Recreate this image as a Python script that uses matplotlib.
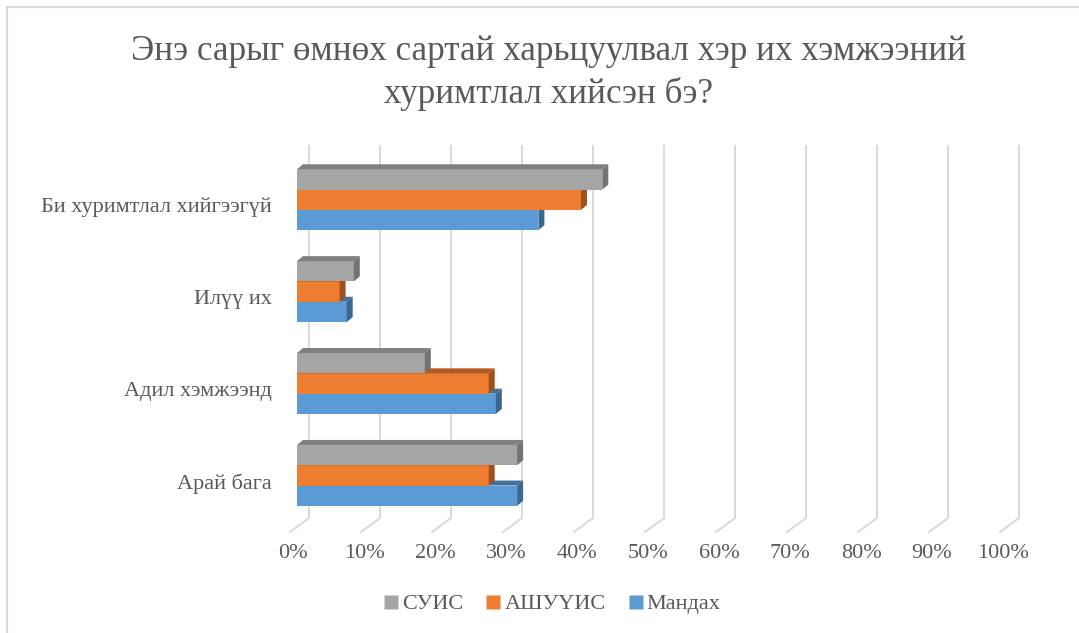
import numpy as np
import matplotlib.pyplot as plt
from matplotlib.patches import Polygon, Rectangle
from matplotlib.lines import Line2D

plt.rcParams['font.family'] = ['Liberation Serif', 'DejaVu Serif']

# data (bottom to top, as matplotlib draws categories)
categories = ["Арай бага", "Адил хэмжээнд", "Илүү их", "Би хуримтлал хийгээгүй"]
series_names = ["СУИС", "АШУҮИС", "Мандах"]
suis = [31, 18, 8, 43]
ashuuis = [27, 27, 6, 40]
mandakh = [31, 28, 7, 34]
x_ticks = [0, 10, 20, 30, 40, 50, 60, 70, 80, 90, 100]

front_colors = ["#A5A5A5", "#ED7D31", "#5B9BD5"]
top_colors = ["#7F7F7F", "#B35A20", "#41719C"]
side_colors = ["#737373", "#A0501C", "#3A6790"]
grid_color = "#D9D9D9"
text_color = "#595959"

W, H = 1079, 633
fig = plt.figure(figsize=(W / 100, H / 100), dpi=100)

# axes placement in pixels
px_x = 7.1      # pixels per percent
px_y = 91.9     # pixels per category
x0_px = 297
y0_px = 475.4
xlim = (-3, 103)
ylim = (-(532 - y0_px) / px_y, (y0_px - 145) / px_y)
left = (x0_px + xlim[0] * px_x) / W
width = (xlim[1] - xlim[0]) * px_x / W
bottom = (H - 532) / H
height = (ylim[1] - ylim[0]) * px_y / H
ax = fig.add_axes([left, bottom, width, height])
ax.set_xlim(*xlim)
ax.set_ylim(*ylim)
ax.axis("off")

# 3d depth offsets in data units
bar_dx, bar_dy = 6 / px_x, 5 / px_y
back_dx, floor_dy = 12 / px_x, 14 / px_y
front_dx = -7 / px_x

# back wall gridlines and floor lines
for t in x_ticks:
    ax.plot([t + back_dx, t + back_dx], [ylim[0] + floor_dy, ylim[1]],
            color=grid_color, lw=1.4, zorder=1, clip_on=False, solid_capstyle="butt")
    ax.plot([t + back_dx, t + front_dx], [ylim[0] + floor_dy, ylim[0]],
            color=grid_color, lw=1.4, zorder=1, clip_on=False)
    ax.text(t - 0.56, -(553 - y0_px) / px_y, f"{t}%", ha="center", va="center",
            fontsize=16, color=text_color, clip_on=False)

bh = 20.3 / px_y
values = [suis, ashuuis, mandakh]
offsets = [bh, 0, -bh]
z = 2
# draw bottom series first so upper bars cover their top faces
for s in [2, 1, 0]:
    for i, v in enumerate(values[s]):
        yc = i + offsets[s]
        b, t = yc - bh / 2, yc + bh / 2
        ax.add_patch(Rectangle((0, b), v, bh, facecolor=front_colors[s],
                               edgecolor="none", zorder=z))
        ax.add_patch(Polygon([(0, t), (v, t), (v + bar_dx, t + bar_dy), (bar_dx, t + bar_dy)],
                             closed=True, facecolor=top_colors[s], edgecolor="none", zorder=z))
        ax.add_patch(Polygon([(v, b), (v, t), (v + bar_dx, t + bar_dy), (v + bar_dx, b + bar_dy)],
                             closed=True, facecolor=side_colors[s], edgecolor="none", zorder=z))
    z += 1

# category labels
for i, c in enumerate(categories):
    ax.text(-(x0_px - 272) / px_x, i - 8 / px_y, c, ha="right", va="center",
            fontsize=16, color=text_color, clip_on=False)

# title
fig.text(549 / W, 1 - 73 / H,
         "Энэ сарыг өмнөх сартай харьцуулвал хэр их хэмжээний\nхуримтлал хийсэн бэ?",
         ha="center", va="center", fontsize=25.3, color=text_color, linespacing=1.38)

# legend
handles = [Line2D([], [], marker="s", ls="none", markersize=9.5,
                  markerfacecolor=c, markeredgecolor="none") for c in front_colors]
fig.legend(handles, series_names, loc="center", bbox_to_anchor=(552 / W, 1 - 604 / H),
           ncol=3, frameon=False, fontsize=16, labelcolor=text_color,
           handlelength=0.7, handletextpad=0.15, columnspacing=1.0)

# chart border (top and left visible)
fig.patches.append(Rectangle((7 / W, -0.1), 1.2, 1 - 7 / H + 0.1, transform=fig.transFigure,
                             facecolor="none", edgecolor="#D9D9D9", lw=1.5))

fig.savefig("out.png", dpi=100)
